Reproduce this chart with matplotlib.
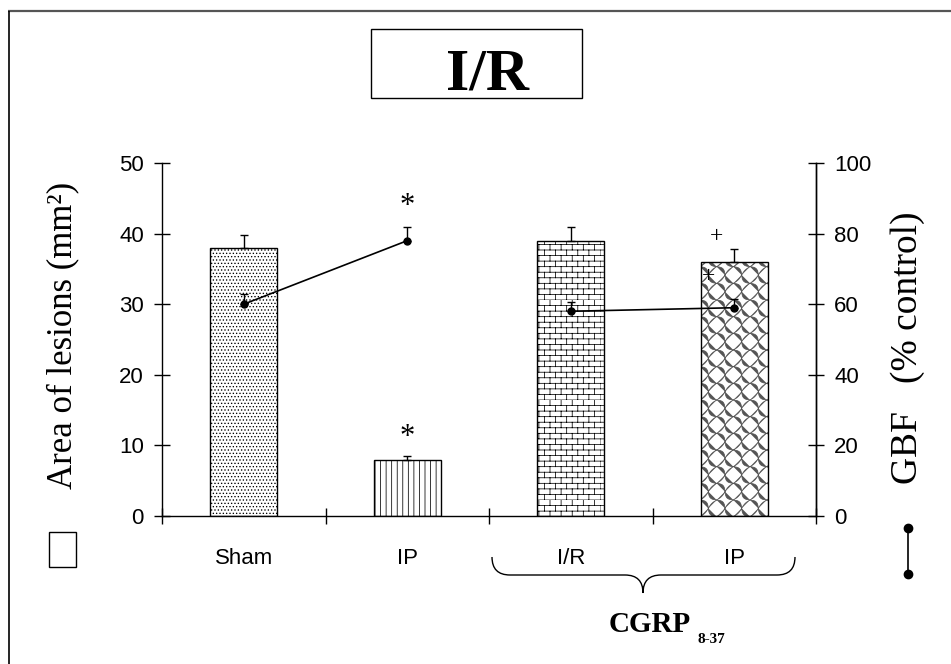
import warnings
warnings.filterwarnings("ignore")
import numpy as np
import matplotlib
matplotlib.use("Agg")
import matplotlib.pyplot as plt
import matplotlib.hatch as mhatch
from matplotlib.path import Path
from matplotlib.patches import Rectangle, PathPatch

# ---------------- data ----------------
categories = ['Sham', 'IP', 'I/R', 'IP']
lesion_area = [38, 8, 39, 36]          # mm^2 (left axis, bars)
lesion_err = [1.8, 0.5, 2.0, 1.8]
gbf = [60, 78, 58, 59]                 # % control (right axis, line)
gbf_err = [3.0, 4.0, 2.5, 2.5]
gbf_groups = [[0, 1], [2, 3]]
bar_hatches = ['.....', '|||', 'b', 's']
hatch_colors = ['black', 'black', 'black', '#555555']
left_ticks = [0, 10, 20, 30, 40, 50]
right_ticks = [0, 20, 40, 60, 80, 100]


# ---------------- custom hatches ----------------
class BrickHatch(mhatch.HatchPatternBase):
    def __init__(self, hatch, density):
        n = hatch.count('b')
        self.rows = 18 * n
        self.cols = 9 * n
        self.num_vertices = (self.rows * 2 + self.rows * self.cols * 2) if n else 0

    def set_vertices_and_codes(self, vertices, codes):
        k = 0
        for i in range(self.rows):
            y = i / self.rows
            vertices[k] = (0, y); vertices[k + 1] = (1, y)
            codes[k] = Path.MOVETO; codes[k + 1] = Path.LINETO
            k += 2
        for i in range(self.rows):
            y0 = i / self.rows
            y1 = (i + 1) / self.rows
            off = 0.5 * (i % 2)
            for j in range(self.cols):
                xx = (j + off) / self.cols
                vertices[k] = (xx, y0); vertices[k + 1] = (xx, y1)
                codes[k] = Path.MOVETO; codes[k + 1] = Path.LINETO
                k += 2


class WaveNetHatch(mhatch.HatchPatternBase):
    NPTS = 121

    def __init__(self, hatch, density):
        n = hatch.count('s')
        self.n = 6 * n
        self.num_vertices = (2 * (2 * self.n + 1) * self.NPTS) if n else 0

    def set_vertices_and_codes(self, vertices, codes):
        t = np.linspace(0, 1, self.NPTS)
        k = 0
        cs = np.arange(-self.n, self.n + 1) / self.n
        for direction in (1, -1):
            amp = 0.03 if direction == -1 else 0.01
            for c in cs:
                if direction == 1:
                    xs0 = t + c; ys0 = t; px, py = 1, -1
                else:
                    xs0 = t + c; ys0 = 1 - t; px, py = 1, 1
                w = amp * np.sin(2 * np.pi * self.n * t)
                vertices[k:k + self.NPTS, 0] = xs0 + px * w / np.sqrt(2)
                vertices[k:k + self.NPTS, 1] = ys0 + py * w / np.sqrt(2)
                codes[k] = Path.MOVETO
                codes[k + 1:k + self.NPTS] = Path.LINETO
                k += self.NPTS


mhatch._hatch_types.append(BrickHatch)
mhatch._hatch_types.append(WaveNetHatch)

plt.rcParams['hatch.linewidth'] = 0.55

W, H = 951, 664
fig = plt.figure(figsize=(W / 100, H / 100), dpi=100)
fig.patch.set_facecolor('white')

# main axes: pixel box left 162, right 816, top 163, bottom 516
ax = fig.add_axes([162 / W, 1 - 516 / H, (816 - 162) / W, (516 - 163) / H])
ax.set_facecolor('none')
x = np.arange(len(categories)) + 0.5
sans = 'Liberation Sans'
serif = 'Liberation Serif'

for xi, v, e, h, hc in zip(x, lesion_area, lesion_err, bar_hatches, hatch_colors):
    # hatch layer
    ax.bar(xi, v, width=0.41, facecolor='white', edgecolor=hc,
           linewidth=0, hatch=h, zorder=2)
    # outline layer
    ax.bar(xi, v, width=0.41, facecolor='none', edgecolor='black',
           linewidth=1.0, zorder=2.5)
    ax.errorbar(xi, v, yerr=[[0], [e]], fmt='none', ecolor='black',
                elinewidth=1.0, capsize=3, capthick=1.0, zorder=3)

ax.set_xlim(0, 4)
ax.set_ylim(0, 50)
ax.set_yticks(left_ticks)
ax.set_xticks([0, 1, 2, 3, 4])
ax.set_xticklabels([])
ax.set_xticks(x, minor=True)
ax.set_xticklabels(categories, minor=True, fontfamily=sans, fontsize=16)
ax.tick_params(axis='x', which='major', direction='inout', length=12, width=1)
ax.tick_params(axis='x', which='minor', length=0, pad=23)
ax.tick_params(axis='y', direction='inout', length=12, width=1, pad=7,
               labelsize=16)
for lab in ax.get_yticklabels():
    lab.set_fontfamily(sans)
ax.spines['top'].set_visible(False)
for s in ('left', 'bottom', 'right'):
    ax.spines[s].set_linewidth(1.0)

ax2 = ax.twinx()
ax2.set_ylim(0, 100)
ax2.set_yticks(right_ticks)
ax2.tick_params(axis='y', direction='inout', length=12, width=1, pad=7,
                labelsize=16)
for lab in ax2.get_yticklabels():
    lab.set_fontfamily(sans)
ax2.spines['top'].set_visible(False)
ax2.spines['left'].set_visible(False)
ax2.spines['bottom'].set_visible(False)
ax2.spines['right'].set_linewidth(1.0)

for g in gbf_groups:
    gx = [x[i] for i in g]
    gy = [gbf[i] for i in g]
    ge = [gbf_err[i] for i in g]
    ax2.plot(gx, gy, color='black', linewidth=1.2, marker='o',
             markersize=5, zorder=4)
    ax2.errorbar(gx, gy, yerr=[[0] * len(ge), ge], fmt='none', ecolor='black',
                 elinewidth=1.0, capsize=3, capthick=1.0, zorder=4)

# significance marks
ax2.text(x[1], gbf[1] + gbf_err[1] + 1.5, '*', ha='center', va='bottom',
         fontsize=22, fontfamily=serif)
ax.text(x[1], lesion_area[1] + lesion_err[1] + 0.5, '*', ha='center',
        va='bottom', fontsize=22, fontfamily=serif)
ax.text(x[3] - 0.11, lesion_area[3] + lesion_err[3] + 0.3, '+', ha='center',
        va='bottom', fontsize=17, fontfamily=serif)
ax.text(x[3] - 0.16, lesion_area[3] - 3.6, '+', ha='center',
        va='bottom', fontsize=17, fontfamily=serif)

# ---------------- overlay (pixel coordinates) ----------------
ov = fig.add_axes([0, 0, 1, 1], zorder=5)
ov.set_xlim(0, W)
ov.set_ylim(H, 0)
ov.axis('off')
ov.patch.set_alpha(0)

# outer frame
ov.plot([8, W], [11, 11], color='#555555', linewidth=1.6, solid_capstyle='butt')
ov.plot([8.5, 8.5], [11, H], color='black', linewidth=1.2, solid_capstyle='butt')

# title box
ov.add_patch(Rectangle((371, 29), 211, 69, facecolor='white',
                       edgecolor='black', linewidth=1.0))
ov.text(487, 89, 'I/R', ha='center', va='baseline', fontsize=43,
        fontweight='bold', fontfamily=serif)

# axis labels
ov.text(63, 335, 'Area of lesions (mm²)', rotation=90, ha='center',
        va='center', fontsize=25, fontfamily=serif)
ov.text(908, 348, 'GBF   (% control)', rotation=90, ha='center', va='center',
        fontsize=27, fontfamily=serif)

# legend symbols
ov.add_patch(Rectangle((49, 532), 27, 35, facecolor='white',
                       edgecolor='black', linewidth=1.0))
ov.plot([908, 908], [528, 574], color='black', linewidth=1.2, marker='o',
        markersize=6)

# brace under CGRP groups
verts = [(492, 557), (492, 575), (510, 575),
         (625, 575),
         (643, 575), (643, 593),
         (643, 575), (661, 575),
         (777, 575),
         (795, 575), (795, 557)]
codes_b = [Path.MOVETO, Path.CURVE3, Path.CURVE3,
           Path.LINETO,
           Path.CURVE3, Path.CURVE3,
           Path.CURVE3, Path.CURVE3,
           Path.LINETO,
           Path.CURVE3, Path.CURVE3]
ov.add_patch(PathPatch(Path(verts, codes_b), facecolor='none',
                       edgecolor='black', linewidth=1.0))
ov.text(650, 632, 'CGRP', ha='center', va='baseline', fontsize=21,
        fontweight='bold', fontfamily=serif)
ov.text(697, 643, '8-37', ha='left', va='baseline', fontsize=11,
        fontweight='bold', fontfamily=serif)

fig.savefig('out.png', dpi=100)
